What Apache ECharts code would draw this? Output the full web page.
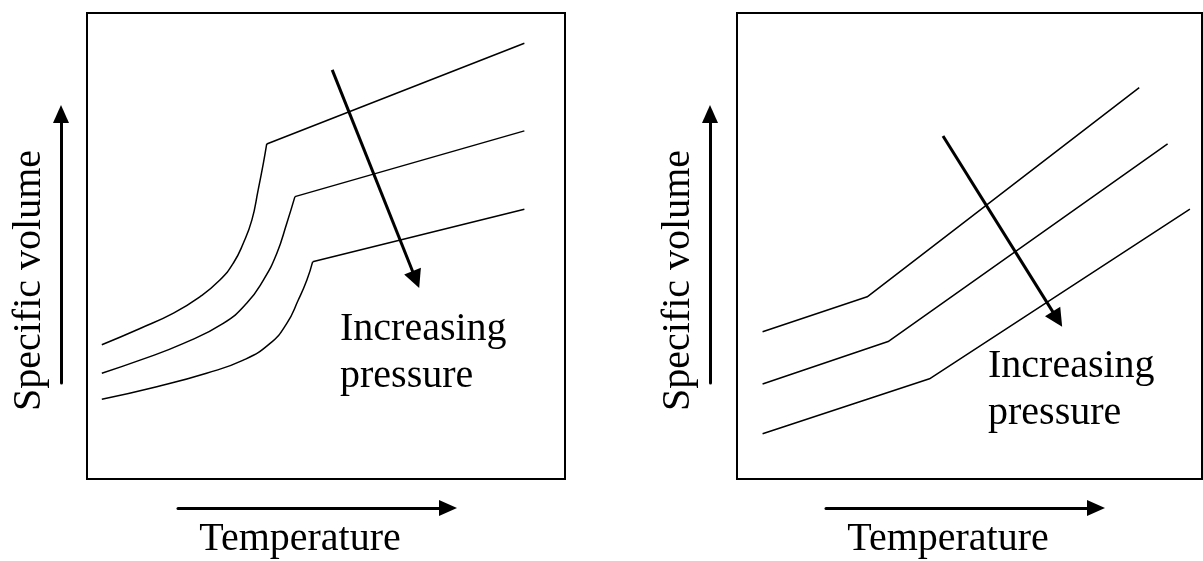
<!DOCTYPE html>
<html>
<head>
<meta charset="utf-8">
<script src="https://cdn.jsdelivr.net/npm/echarts@6/dist/echarts.min.js"></script>
<style>
html,body{margin:0;padding:0;background:#fff;}
#chart{width:1203px;height:561px;}
</style>
</head>
<body>
<div id="chart"></div>
<script>
// ---- Data (schematic units 0-100 on both axes of each panel) ----
// Left panel: curves with a steep rise then a straight segment
const leftCurve1Rise = [[3.1,28.8],[11.1,32.3],[18.1,35.6],[23.6,39.1],[27.8,42.7],[30.6,46.3],[32.7,50.6],[34.5,55.6],[35.8,62.0],[36.9,67.8],[37.6,71.9]];
const leftCurve1End  = [91.5,93.5];
const leftCurve2Rise = [[3.1,22.7],[11.1,25.5],[20.2,29.1],[28.5,33.4],[33.4,37.7],[36.9,42.7],[39.7,48.4],[41.8,54.9],[43.5,60.6]];
const leftCurve2End  = [91.5,74.7];
const leftCurve3Rise = [[3.1,17.1],[14.6,19.8],[25.0,22.7],[32.7,25.5],[38.3,29.1],[41.8,33.4],[44.2,38.4],[46.0,42.7],[47.2,46.6]];
const leftCurve3End  = [91.5,57.9];
// Right panel: two-segment lines
const rightCurve1 = [[5.5,31.6],[28.0,39.1],[86.5,84.0]];
const rightCurve2 = [[5.5,20.4],[32.5,29.5],[92.6,71.9]];
const rightCurve3 = [[5.5,9.7],[41.4,21.5],[97.4,57.9]];
// "Increasing pressure" arrows (start, arrow-head centre)
const leftArrow  = [[51.3,87.8],[68.8,42.8]];
const rightArrow = [[44.3,73.6],[68.9,34.3]];
// Texts
const xName = 'Temperature';
const yName = 'Specific volume';
const annotation = 'Increasing\npressure';

const FONT = 'Liberation Serif, Times New Roman, serif';
const black = '#000';

function curveSeries(rise, end, grid) {
  return [
    { type:'line', xAxisIndex:grid, yAxisIndex:grid, data:rise, smooth:0.5,
      showSymbol:false, symbol:'none', lineStyle:{color:black,width:1.5}, silent:true },
    { type:'line', xAxisIndex:grid, yAxisIndex:grid, data:[rise[rise.length-1], end],
      showSymbol:false, symbol:'none', lineStyle:{color:black,width:1.5}, silent:true }
  ];
}
function polySeries(pts, grid) {
  return { type:'line', xAxisIndex:grid, yAxisIndex:grid, data:pts, showSymbol:false, symbol:'none',
           lineStyle:{color:black,width:1.5}, silent:true };
}
function arrowSeries(a, grid) {
  return { type:'lines', coordinateSystem:'cartesian2d', xAxisIndex:grid, yAxisIndex:grid,
           symbol:['none','triangle'], symbolSize:[14,18],
           lineStyle:{color:black,width:3,opacity:1,curveness:0},
           data:[{coords:a}], silent:true };
}

const hiddenAxis = (g) => ({ gridIndex:g, type:'value', min:0, max:100, show:false });
const nameStyle = (pad) => ({ fontFamily:FONT, fontSize:40, color:black, padding:pad });
const arrowLine = { show:true, onZero:false, symbol:['none','triangle'], symbolSize:[16,18], lineStyle:{color:black,width:3} };

const xArrowAxis = (g) => ({ gridIndex:g, type:'value', min:0, max:1, position:'bottom',
  axisLine:arrowLine, axisTick:{show:false}, axisLabel:{show:false}, splitLine:{show:false},
  name:xName, nameLocation:'middle', nameGap:11, nameTextStyle:nameStyle([0,26,0,0]) });
const yArrowAxis = (g) => ({ gridIndex:g, type:'value', min:0, max:1, position:'left',
  axisLine:arrowLine, axisTick:{show:false}, axisLabel:{show:false}, splitLine:{show:false},
  name:yName, nameLocation:'middle', nameRotate:90, nameGap:12, nameTextStyle:nameStyle([0,64,0,0]) });
const hiddenSmall = (g) => ({ gridIndex:g, type:'value', min:0, max:1, show:false });

const option = {
  backgroundColor:'#fff',
  animation:false,
  grid:[
    { left:87, top:13, width:478, height:466, show:true, borderColor:black, borderWidth:2, backgroundColor:'transparent' },
    { left:737, top:13, width:465, height:466, show:true, borderColor:black, borderWidth:2, backgroundColor:'transparent' },
    { left:178, top:507, width:270, height:1 },
    { left:61, top:114, width:1, height:269 },
    { left:826, top:507, width:270, height:1 },
    { left:710, top:114, width:1, height:269 }
  ],
  xAxis:[ hiddenAxis(0), hiddenAxis(1), xArrowAxis(2), hiddenSmall(3), xArrowAxis(4), hiddenSmall(5) ],
  yAxis:[ hiddenAxis(0), hiddenAxis(1), hiddenSmall(2), yArrowAxis(3), hiddenSmall(4), yArrowAxis(5) ],
  graphic:[
    { type:'text', x:340, y:306, silent:true,
      style:{ text:annotation, font:'40px ' + FONT, fill:black, lineHeight:47, verticalAlign:'top', align:'left' } },
    { type:'text', x:988, y:343, silent:true,
      style:{ text:annotation, font:'40px ' + FONT, fill:black, lineHeight:47, verticalAlign:'top', align:'left' } }
  ],
  series:[
    ...curveSeries(leftCurve1Rise, leftCurve1End, 0),
    ...curveSeries(leftCurve2Rise, leftCurve2End, 0),
    ...curveSeries(leftCurve3Rise, leftCurve3End, 0),
    polySeries(rightCurve1, 1),
    polySeries(rightCurve2, 1),
    polySeries(rightCurve3, 1),
    arrowSeries(leftArrow, 0),
    arrowSeries(rightArrow, 1)
  ]
};
const chart = echarts.init(document.getElementById('chart'), null, {renderer:'canvas'});
chart.setOption(option);
</script>
</body>
</html>
